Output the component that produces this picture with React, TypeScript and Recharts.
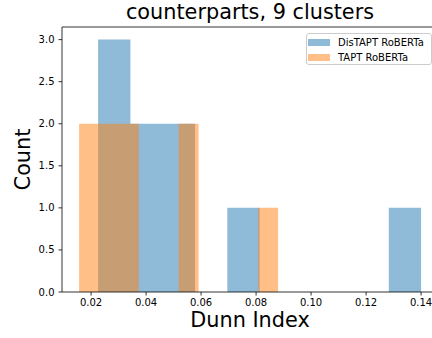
import React from 'react';
import { ComposedChart, Area, XAxis, YAxis, ReferenceLine, Legend } from 'recharts';

// bin edges (Dunn Index) and counts per bin
const disEdges = [0.02255, 0.0343, 0.04604, 0.05779, 0.06953, 0.08128, 0.09302, 0.10477, 0.11651, 0.12826, 0.14];
const disCounts = [3, 2, 2, 0, 1, 0, 0, 0, 0, 1];

const taptEdges = [0.01564, 0.02288, 0.03011, 0.03735, 0.04458, 0.05182, 0.05906, 0.06629, 0.07353, 0.08076, 0.088];
const taptCounts = [2, 2, 2, 0, 0, 2, 0, 0, 0, 1];

const xTicks = [0.02, 0.04, 0.06, 0.08, 0.1, 0.12, 0.14];
const yTicks = [0, 0.5, 1, 1.5, 2, 2.5, 3];

const FONT = '"DejaVu Sans", sans-serif';

// step series: one point per left edge, plus the closing right edge
const toSteps = (edges: number[], counts: number[]) =>
  edges.map((x, i) => ({ x, count: counts[Math.min(i, counts.length - 1)] }));

const disData = toSteps(disEdges, disCounts);
const taptData = toSteps(taptEdges, taptCounts);

const LegendBox = ({ payload }: any) => (
  <div
    style={{
      width: 126,
      height: 32,
      border: '1px solid #cccccc',
      borderRadius: 3,
      background: 'rgba(255,255,255,0.8)',
      fontFamily: FONT,
      fontSize: 10,
      boxSizing: 'border-box',
      padding: '1px 0 0 1px'
    }}
  >
    {(payload || []).map((entry: any, i: number) => (
      <div key={i} style={{ display: 'flex', alignItems: 'center', height: 15.3 }}>
        <span
          style={{
            display: 'inline-block',
            width: 22,
            height: 7,
            background: entry.color,
            opacity: 0.5,
            marginRight: 8
          }}
        />
        <span style={{ color: '#000' }}>{entry.value}</span>
      </div>
    ))}
  </div>
);

const App: React.FC = () => {
  return (
    <div style={{ position: 'relative', width: 432, height: 338, background: '#fff' }}>
      <style>{`body { margin: 0; }`}</style>
      <div
        style={{
          position: 'absolute',
          left: 62,
          width: 376,
          top: 0,
          textAlign: 'center',
          fontFamily: FONT,
          fontSize: 20.8,
          lineHeight: '25px',
          color: '#000'
        }}
      >
        counterparts, 9 clusters
      </div>
      <ComposedChart
        width={432}
        height={338}
        margin={{ top: 27, right: 0, bottom: 0, left: 0 }}
        style={{ position: 'absolute', left: 0, top: 0 }}
      >
        <XAxis
          dataKey="x"
          type="number"
          domain={[0.00942, 0.14397]}
          allowDataOverflow
          ticks={xTicks}
          tickFormatter={(v: number) => v.toFixed(2)}
          tick={{ fontSize: 10, fill: '#000', fontFamily: FONT }}
          tickSize={3.5}
          tickMargin={3}
          axisLine={{ stroke: '#000', strokeWidth: 0.8 }}
          tickLine={{ stroke: '#000', strokeWidth: 0.8 }}
          height={46}
          label={{
            content: (props: any) => {
              const vb = props.viewBox;
              return (
                <text
                  x={vb.x + 188}
                  y={327}
                  textAnchor="middle"
                  fontSize={20.8}
                  fontFamily={FONT}
                  fill="#000"
                >
                  Dunn Index
                </text>
              );
            }
          }}
        />
        <YAxis
          type="number"
          domain={[0, 3.15]}
          ticks={yTicks}
          tickFormatter={(v: number) => v.toFixed(1)}
          tick={{ fontSize: 10, fill: '#000', fontFamily: FONT }}
          tickSize={3.5}
          tickMargin={4}
          axisLine={{ stroke: '#000', strokeWidth: 0.8 }}
          tickLine={{ stroke: '#000', strokeWidth: 0.8 }}
          width={62}
          label={{
            content: (props: any) => {
              const vb = props.viewBox;
              const cy = vb.y + vb.height / 2;
              return (
                <text
                  x={23}
                  y={cy}
                  transform={`rotate(-90 23 ${cy})`}
                  textAnchor="middle"
                  dominantBaseline="central"
                  fontSize={20.8}
                  fontFamily={FONT}
                  fill="#000"
                >
                  Count
                </text>
              );
            }
          }}
        />
        <ReferenceLine y={3.15} stroke="#000" strokeWidth={0.8} ifOverflow="extendDomain" />
        <Legend
          layout="vertical"
          align="center"
          verticalAlign="middle"
          wrapperStyle={{ position: 'absolute', left: 306, top: 33, width: 126 }}
          content={<LegendBox />}
        />
        <Area
          data={disData}
          dataKey="count"
          type="stepAfter"
          name="DisTAPT RoBERTa"
          stroke="none"
          fill="#1f77b4"
          fillOpacity={0.5}
          isAnimationActive={false}
          activeDot={false}
          dot={false}
        />
        <Area
          data={taptData}
          dataKey="count"
          type="stepAfter"
          name="TAPT RoBERTa"
          stroke="none"
          fill="#ff7f0e"
          fillOpacity={0.5}
          isAnimationActive={false}
          activeDot={false}
          dot={false}
        />
      </ComposedChart>
    </div>
  );
};

export default App;
